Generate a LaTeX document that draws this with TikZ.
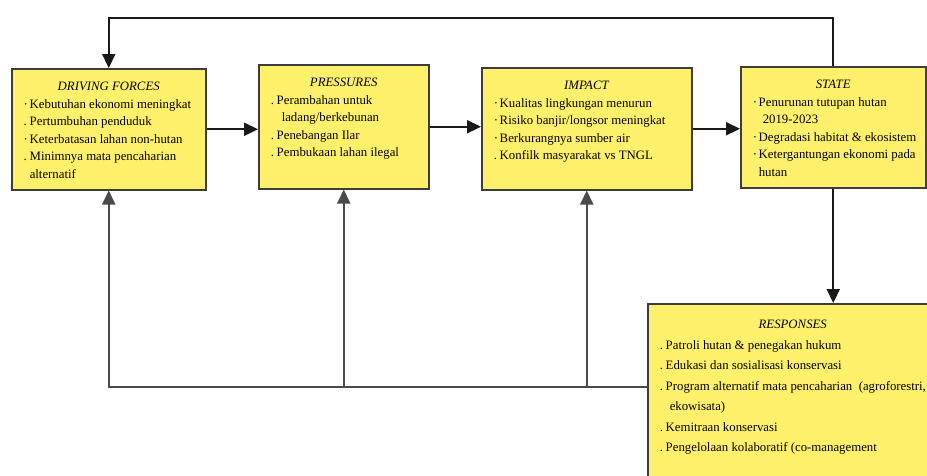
\documentclass[tikz,border=0pt]{standalone}
\usepackage{fontspec}
\setmainfont{Liberation Serif}
\usepackage{xcolor}
\usepackage{tikz}
\usetikzlibrary{arrows.meta}
\definecolor{boxyellow}{HTML}{FFF06B}
\definecolor{boxline}{HTML}{3C3C3C}
\definecolor{linkgray}{HTML}{4A4A4A}
\tikzstyle{dpsir} = [rectangle, draw=boxline, fill=boxyellow, line width=1.5pt, anchor=north west, inner sep=0pt]
\tikzstyle{arrow} = [line width=2.2pt, draw=black!90, -{Triangle[length=14pt,width=13pt]}]
\tikzstyle{feedback} = [arrow, draw=linkgray, line width=2pt]

\newcommand{\boxtitle}[2][22pt]{\noindent\makebox[\linewidth][c]{\rule{0pt}{#1}\textit{#2}}}
\newcommand{\itm}[1]{\par\noindent\hspace*{12pt}\makebox[6pt][l]{#1}}
\newcommand{\cont}[1][18pt]{\par\noindent\hspace*{#1}}
\newcommand{\boxbody}[4][17.5]{\parbox[t][#2][t]{#3}{\fontsize{12.8}{#1}\selectfont\raggedright #4}}

\begin{document}
\begin{tikzpicture}[x=1pt, y=-1pt]
  \useasboundingbox (0,0) rectangle (927,475);
  \clip (0,0) rectangle (927,475);
  % DPSIR boxes
  \node (df) [dpsir] at (11,68) {\boxbody{121pt}{194pt}{%
    \boxtitle{DRIVING FORCES}
    \itm{·}Kebutuhan ekonomi meningkat
    \itm{.}Pertumbuhan penduduk
    \itm{·}Keterbatasan lahan non-hutan
    \itm{.}Minimnya mata pencaharian
    \cont alternatif}};
  \node (pres) [dpsir] at (258,64) {\boxbody{124pt}{170pt}{%
    \boxtitle{PRESSURES}
    \itm{.}Perambahan untuk
    \cont[23pt]ladang/berkebunan
    \itm{.}Penebangan Ilar
    \itm{.}Pembukaan lahan ilegal}};
  \node (impact) [dpsir] at (481,67) {\boxbody{122pt}{210pt}{%
    \boxtitle{IMPACT}
    \itm{·}Kualitas lingkungan menurun
    \itm{·}Risiko banjir/longsor meningkat
    \itm{·}Berkurangnya sumber air
    \itm{.}Konfilk masyarakat vs TNGL}};
  \node (state) [dpsir] at (740,66) {\boxbody{121pt}{185pt}{%
    \boxtitle{STATE}
    \itm{·}Penurunan tutupan hutan
    \cont[22pt]2019-2023
    \itm{·}Degradasi habitat \& ekosistem
    \itm{·}Ketergantungan ekonomi pada
    \cont hutan}};
  \node (resp) [dpsir] at (647,303) {\boxbody[20.5]{185pt}{290pt}{%
    \boxtitle[25pt]{RESPONSES}
    \itm{.}Patroli hutan \& penegakan hukum
    \itm{.}Edukasi dan sosialisasi konservasi
    \itm{.}Program alternatif mata pencaharian \ (agroforestri,
    \cont[22pt]ekowisata)
    \itm{.}Kemitraan konservasi
    \itm{.}Pengelolaan kolaboratif (co-management}};
  \coordinate (back) at ([yshift=9.5pt]resp.west);
  % causal chain
  \draw [arrow] (df.east) -- (df.east -| pres.west);
  \draw [arrow] (pres.east) -- (pres.east -| impact.west);
  \draw [arrow] (impact.east) -- (impact.east -| state.west);
  \draw [arrow] (state.south) -- (state.south |- resp.north);
  \draw [arrow] (state.north) -- ++(0,-48) -| (df.north);
  % responses feed back
  \draw [feedback] (back) -| (df.south);
  \draw [feedback] (pres.south |- back) -- (pres.south);
  \draw [feedback] (impact.south |- back) -- (impact.south);
\end{tikzpicture}
\end{document}
